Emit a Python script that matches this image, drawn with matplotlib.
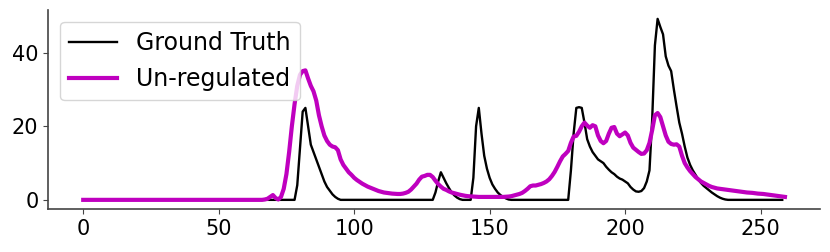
import numpy as np
import matplotlib.pyplot as plt

# ground truth, one value per time step (0..259)
ground_truth = (
    [0.0] * 79
    + [4, 14, 24, 25, 20, 15, 13, 11, 9, 7, 5, 3.5, 2.5, 1.5, 0.8, 0.3]
    + [0.0] * 35
    + [2, 5, 7.5, 6, 4.5, 3.2, 2, 1.2, 0.6, 0.2]
    + [0.0] * 4
    + [6, 20, 25, 18, 12, 8.5, 6, 4.2, 3, 2, 1.3, 0.8, 0.4, 0.1]
    + [0.0] * 22
    + [8, 18, 25, 25.2, 25, 21, 16.5, 14.5, 13, 12, 11, 10.5, 10, 9, 8.2,
       7.5, 7, 6.3, 5.8, 5.5, 5, 4.5, 3.5, 2.8, 2.3, 2.2, 2.4, 3.2, 5, 8,
       22, 42, 49.2, 47, 45, 39, 36.5, 35, 30, 25.4, 21, 18, 14.5, 11.5,
       9.5, 8, 6.8, 5.6, 4.6, 3.8, 3.2, 2.6, 2, 1.5, 1, 0.6, 0.3, 0.1]
    + [0.0] * 21
)

# un-regulated prediction
unregulated = (
    [0.0] * 67
    + [0.1, 0.3, 0.8, 1.3, 0.5, 0.1, 0.8, 3, 7, 13, 20, 26, 31, 34, 35,
       35.2, 33, 31, 29.5, 27, 23, 20, 17.5, 16, 15, 14.5, 14.3, 13.5, 11,
       9.5, 8.5, 7.5, 6.8, 6, 5.4, 4.9, 4.4, 4, 3.6, 3.3, 3, 2.7, 2.4, 2.2,
       2, 1.9, 1.8, 1.7, 1.65, 1.6, 1.6, 1.7, 1.9, 2.2, 2.8, 3.6, 4.4, 5.5,
       6.3, 6.5, 6.8, 6.8, 6.2, 5.2, 4.3, 3.6, 3, 2.7, 2.3, 2, 1.8, 1.6,
       1.4, 1.25, 1.1, 1, 0.95, 0.9, 0.85]
    + [0.8] * 10
    + [0.85, 0.9, 1, 1.2, 1.4, 1.6, 1.9, 2.4, 3, 3.7, 3.9, 3.9, 4.1, 4.3,
       4.6, 5, 5.6, 6.5, 7.6, 9, 10.5, 11.8, 12.5, 13.3, 15.5, 17.2, 17.4,
       18.5, 20, 21, 20.2, 19.6, 20.3, 20, 17.5, 16, 15.4, 16, 18, 19.6,
       19.8, 18, 17.3, 17.8, 18.3, 17.5, 15.5, 14.2, 13.6, 13, 12.5, 12.6,
       13.5, 15.5, 19, 23, 23.6, 22.5, 20, 17.5, 15.8, 15.2, 15, 15.1, 14.5,
       12, 10, 8.8, 7.8, 7, 6.2, 5.6, 5, 4.6, 4.2, 3.8, 3.5, 3.3, 3.1, 3,
       2.9, 2.8, 2.7, 2.6, 2.5, 2.4, 2.3, 2.2, 2.1, 2, 1.95, 1.9, 1.8, 1.7,
       1.65, 1.6, 1.5, 1.4, 1.3, 1.2, 1.1, 1.0, 0.9, 0.8]
)

t_gt = np.arange(len(ground_truth))
t_un = np.arange(len(unregulated))

fig = plt.figure(figsize=(8.3, 2.52), dpi=100)
ax = fig.add_axes([0.058, 0.171, 0.93, 0.79])

ax.plot(t_gt, ground_truth, color='black', linewidth=1.7, label='Ground Truth')
ax.plot(t_un, unregulated, color='m', linewidth=3.0, label='Un-regulated')

ax.spines['top'].set_visible(False)
ax.spines['right'].set_visible(False)
for side in ['left', 'bottom']:
    ax.spines[side].set_color('#444444')
    ax.spines[side].set_linewidth(1.2)

ax.set_xticks([0, 50, 100, 150, 200, 250])
ax.set_yticks([0, 20, 40])
ax.tick_params(labelsize=15, color='#444444')

ax.legend(loc='upper left', fontsize=17, borderaxespad=0.5)

fig.savefig('out.png', dpi=100)
